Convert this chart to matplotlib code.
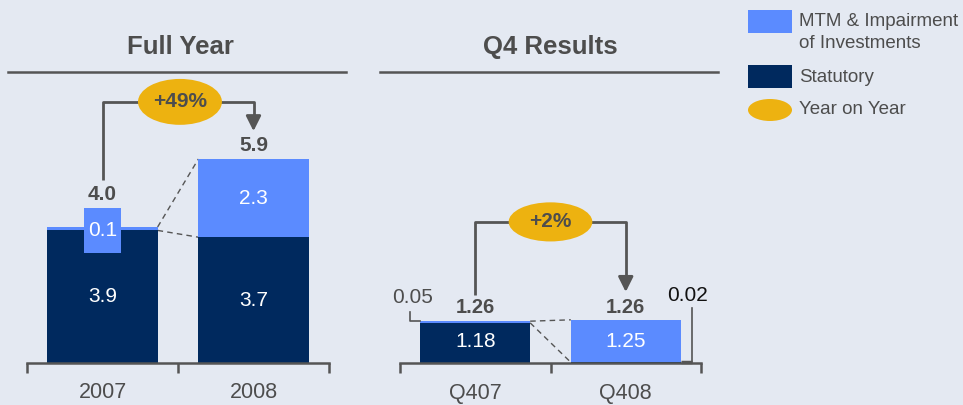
import matplotlib
matplotlib.use("Agg")
import matplotlib.pyplot as plt
from matplotlib.patches import Ellipse, Rectangle
from matplotlib.lines import Line2D

plt.rcParams['font.family'] = ['Liberation Sans', 'DejaVu Sans']

# ---- data ----
fy_categories = ["2007", "2008"]
fy_statutory = [3.9, 3.7]
fy_mtm = [0.1, 2.3]
fy_totals = ["4.0", "5.9"]
fy_change = "+49%"

q4_categories = ["Q407", "Q408"]
q4_statutory = [1.18, 0.02]
q4_mtm = [0.05, 1.25]
q4_totals = ["1.26", "1.26"]
q4_change = "+2%"

panel_titles = ["Full Year", "Q4 Results"]
legend_labels = ["MTM & Impairment", "of Investments", "Statutory", "Year on Year"]

# ---- style ----
BG = "#e4e9f2"
NAVY = "#00295e"
LBLUE = "#5b8bff"
GOLD = "#edb210"
GRAY = "#4d4d4d"
LINE = "#555555"

W, H = 963, 405
fig = plt.figure(figsize=(W / 100, H / 100), dpi=100, facecolor=BG)

def fx(px):
    return px / W

def fy(py):
    return 1 - py / H

SCALE = 34.0  # px per unit
BASE = 363
BW = 0.73

def make_axes(left_px, right_px):
    ax = fig.add_axes([fx(left_px), fy(BASE), fx(right_px - left_px), BASE / H])
    ax.set_facecolor("none")
    ax.set_xlim(-0.5, 1.5)
    ax.set_ylim(0, BASE / SCALE)
    for s in ["top", "right", "left"]:
        ax.spines[s].set_visible(False)
    ax.spines["bottom"].set_color(LINE)
    ax.spines["bottom"].set_linewidth(1.8)
    ax.set_yticks([])
    ax.set_xticks([-0.5, 0.5, 1.5])
    ax.set_xticklabels([])
    ax.tick_params(axis="x", length=7, width=1.8, color=LINE, direction="out")
    return ax

def add_labels(ax, cats):
    for i, c in enumerate(cats):
        ax.text(i, -30 / SCALE, c, ha="center", va="center", fontsize=15.5,
                color=GRAY, clip_on=False)

def bracket(ax, x0, x1, y_start, y_top, y_tip, ecx, ew, eh, label, fs):
    ax.plot([x0, x0, x1, x1], [y_start, y_top, y_top, y_tip + 0.3],
            color=LINE, lw=2, solid_capstyle="butt", clip_on=False, zorder=3)
    ax.annotate("", xy=(x1, y_tip), xytext=(x1, y_tip + 0.35),
                arrowprops=dict(arrowstyle="-|>,head_length=0.9,head_width=0.45",
                                color=LINE, lw=2, shrinkA=0, shrinkB=0),
                annotation_clip=False, zorder=4)
    e = Ellipse((ecx, y_top), ew, eh, facecolor=GOLD, edgecolor="none",
                zorder=5, clip_on=False)
    ax.add_patch(e)
    ax.text(ecx, y_top, label, ha="center", va="center", fontsize=fs,
            fontweight="bold", color=GRAY, zorder=6)

# ---- Full year panel ----
ax1 = make_axes(27, 329)
x = [0, 1]
ax1.bar(x, fy_statutory, width=BW, color=NAVY, zorder=2)
ax1.bar(x, fy_mtm, width=BW, bottom=fy_statutory, color=LBLUE, zorder=2)
# 0.1 label box
ax1.add_patch(Rectangle((-0.125, 3.24), 0.25, 1.32, facecolor=LBLUE,
                        edgecolor="none", zorder=3))
ax1.text(0, 3.9, "0.1", ha="center", va="center", fontsize=15, color="white", zorder=4)
ax1.text(0, fy_statutory[0] / 2, "3.9", ha="center", va="center", fontsize=15, color="white", zorder=4)
ax1.text(1, fy_statutory[1] / 2, "3.7", ha="center", va="center", fontsize=15, color="white", zorder=4)
ax1.text(1, fy_statutory[1] + fy_mtm[1] / 2, "2.3", ha="center", va="center", fontsize=15, color="white", zorder=4)
tot1 = [s + m for s, m in zip(fy_statutory, fy_mtm)]
ax1.text(0, 4.97, fy_totals[0], ha="center", va="center", fontsize=15, fontweight="bold", color=GRAY)
ax1.text(1, 6.41, fy_totals[1], ha="center", va="center", fontsize=15, fontweight="bold", color=GRAY)
# dashed connectors
ax1.plot([BW / 2, 1 - BW / 2], [tot1[0], tot1[1]], ls=(0, (4, 3)), color=LINE, lw=1, zorder=1)
ax1.plot([BW / 2, 1 - BW / 2], [fy_statutory[0], fy_statutory[1]], ls=(0, (4, 3)), color=LINE, lw=1, zorder=1)
bracket(ax1, 0, 1, 5.38, 7.68, 6.82, 0.513, 0.556, 1.35, fy_change, 15)
add_labels(ax1, fy_categories)

# ---- Q4 panel ----
ax2 = make_axes(400, 701)
ax2.bar(x, q4_statutory, width=BW, color=NAVY, zorder=2)
ax2.bar(x, q4_mtm, width=BW, bottom=q4_statutory, color=LBLUE, zorder=2)
ax2.text(0, 0.62, "1.18", ha="center", va="center", fontsize=15, color="white", zorder=4)
ax2.text(1, 0.645, "1.25", ha="center", va="center", fontsize=15, color="white", zorder=4)
tot2 = [s + m for s, m in zip(q4_statutory, q4_mtm)]
ax2.text(0, 1.62, q4_totals[0], ha="center", va="center", fontsize=14.5, fontweight="bold", color=GRAY)
ax2.text(1, 1.62, q4_totals[1], ha="center", va="center", fontsize=14.5, fontweight="bold", color=GRAY)
ax2.plot([BW / 2, 1 - BW / 2], [tot2[0], tot2[1]], ls=(0, (4, 3)), color=LINE, lw=1, zorder=1)
ax2.plot([BW / 2, 1 - BW / 2], [q4_statutory[0], q4_statutory[1]], ls=(0, (4, 3)), color=LINE, lw=1, zorder=1)
# 0.05 leader
ax2.plot([-BW / 2, -0.434, -0.434], [tot2[0], tot2[0], 1.5], color=LINE, lw=1.2, clip_on=False)
ax2.text(-0.414, 1.93, "0.05", ha="center", va="center", fontsize=15, color=GRAY)
# 0.02 leader
ax2.plot([BW / 2 + 1, 1.44], [0.035, 0.035], color=LINE, lw=2.5, clip_on=False,
         solid_capstyle="butt")
ax2.plot([1.44, 1.44], [0.035, 1.62], color=LINE, lw=1.2, clip_on=False)
ax2.text(1.407, 1.98, "0.02", ha="center", va="center", fontsize=15, color="#111111")
bracket(ax2, 0, 1, 2.0, 4.15, 2.09, 0.5, 0.556, 1.15, q4_change, 15)
add_labels(ax2, q4_categories)

# ---- titles and rules ----
fig.text(fx(180), fy(47), panel_titles[0], ha="center", va="center",
         fontsize=18.5, fontweight="bold", color=GRAY)
fig.text(fx(550), fy(47), panel_titles[1], ha="center", va="center",
         fontsize=18.5, fontweight="bold", color=GRAY)
fig.add_artist(Line2D([fx(8), fx(346)], [fy(72), fy(72)], color=LINE, lw=1.8))
fig.add_artist(Line2D([fx(380), fx(718)], [fy(72), fy(72)], color=LINE, lw=1.8))

# ---- legend ----
fig.add_artist(Rectangle((fx(748), fy(33)), fx(44), 23 / H, facecolor=LBLUE,
                         edgecolor="none", transform=fig.transFigure))
fig.add_artist(Rectangle((fx(748), fy(88)), fx(44), 23 / H, facecolor=NAVY,
                         edgecolor="none", transform=fig.transFigure))
fig.add_artist(Ellipse((fx(770), fy(110)), fx(44), 22 / H, facecolor=GOLD,
                       edgecolor="none", transform=fig.transFigure))
for lbl, ypx in zip(legend_labels, [22, 44, 77, 110]):
    fig.text(fx(799), fy(ypx), lbl, ha="left", va="center", fontsize=13.5, color=GRAY)

fig.savefig("out.png", dpi=100, facecolor=BG)
